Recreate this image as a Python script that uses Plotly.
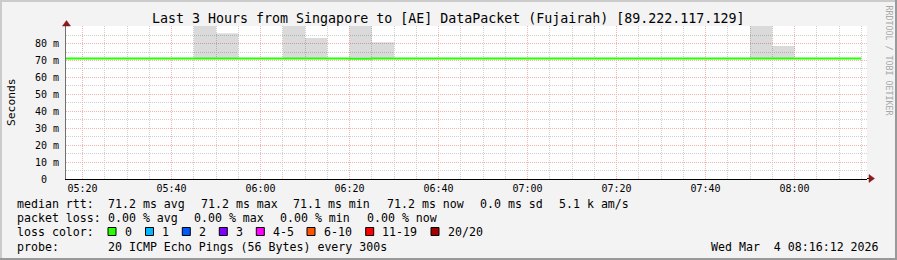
import plotly.graph_objects as go

# ---------------- data ----------------
median_times = [
    "2026-03-04 05:15", "2026-03-04 05:20", "2026-03-04 05:25", "2026-03-04 05:30",
    "2026-03-04 05:35", "2026-03-04 05:40", "2026-03-04 05:45", "2026-03-04 05:50",
    "2026-03-04 05:55", "2026-03-04 06:00", "2026-03-04 06:05", "2026-03-04 06:10",
    "2026-03-04 06:15", "2026-03-04 06:20", "2026-03-04 06:25", "2026-03-04 06:30",
    "2026-03-04 06:35", "2026-03-04 06:40", "2026-03-04 06:45", "2026-03-04 06:50",
    "2026-03-04 06:55", "2026-03-04 07:00", "2026-03-04 07:05", "2026-03-04 07:10",
    "2026-03-04 07:15", "2026-03-04 07:20", "2026-03-04 07:25", "2026-03-04 07:30",
    "2026-03-04 07:35", "2026-03-04 07:40", "2026-03-04 07:45", "2026-03-04 07:50",
    "2026-03-04 07:55", "2026-03-04 08:00", "2026-03-04 08:05", "2026-03-04 08:10",
    "2026-03-04 08:15",
]
median_rtt_ms = [
    71.2, 71.2, 71.2, 71.2, 71.2, 71.2, 71.2, 71.2, 71.2, 71.2,
    71.2, 71.2, 71.2, 71.1, 71.2, 71.2, 71.2, 71.2, 71.2, 71.2,
    71.2, 71.2, 71.2, 71.2, 71.2, 71.2, 71.2, 71.2, 71.2, 71.2,
    71.2, 71.2, 71.2, 71.2, 71.2, 71.2, 71.2,
]

smoke_start = [
    "2026-03-04 05:45", "2026-03-04 05:50", "2026-03-04 06:05", "2026-03-04 06:10",
    "2026-03-04 06:20", "2026-03-04 06:25", "2026-03-04 07:50", "2026-03-04 07:55",
]
smoke_low_ms = [71.0, 71.0, 71.0, 71.0, 71.0, 71.0, 71.0, 71.0]
smoke_high_ms = [112.0, 86.1, 105.0, 83.3, 98.0, 80.8, 101.0, 78.6]

y_tick_vals = [0, 10, 20, 30, 40, 50, 60, 70, 80]
y_tick_text = ["0\u00a0\u00a0", "10 m", "20 m", "30 m", "40 m", "50 m", "60 m", "70 m", "80 m"]

loss_labels = ["0", "1", "2", "3", "4-5", "6-10", "11-19", "20/20"]
loss_colors = ["#26ff00", "#00b8ff", "#0059ff", "#7e00ff", "#ff00ff", "#ff5500", "#ff0000", "#a00000"]

title_text = "Last 3 Hours from Singapore to [AE] DataPacket (Fujairah) [89.222.117.129]"

# ---------------- geometry ----------------
W, H = 897, 260
L, R, T, B = 66, 867, 26, 179
PW, PH = R - L, B - T


def px(x):
    return (x - L) / PW


def py(y):
    return (B - y) / PH


MONO = "DejaVu Sans Mono"
BG = "#f3f3f3"

fig = go.Figure()

fig.add_trace(go.Bar(
    x=smoke_start,
    y=[h - l for h, l in zip(smoke_high_ms, smoke_low_ms)],
    base=smoke_low_ms,
    width=300000,
    offset=0,
    marker=dict(color="rgba(0,0,0,0.145)", line=dict(width=0)),
    hoverinfo="skip",
    showlegend=False,
))

fig.add_trace(go.Scatter(
    x=median_times,
    y=median_rtt_ms,
    mode="lines",
    line=dict(color="#26ff00", width=2, shape="hv"),
    hoverinfo="skip",
    showlegend=False,
))

fig.update_layout(
    width=W, height=H,
    margin=dict(l=L, r=W - R, t=T, b=H - B, pad=0),
    paper_bgcolor=BG,
    plot_bgcolor="#ffffff",
    showlegend=False,
    hovermode=False,
    font=dict(family=MONO, size=10, color="#000000"),
)

MAJOR_GRID = "#f4b2b2"
MINOR_GRID = "#cfcfcf"

fig.update_xaxes(
    type="date",
    range=["2026-03-04 05:16:17", "2026-03-04 08:16:17"],
    tick0="2026-03-04 05:20",
    dtick=1200000,
    tickformat="%H:%M",
    showgrid=True,
    gridcolor=MAJOR_GRID,
    griddash="1px,1px",
    gridwidth=1,
    minor=dict(dtick=300000, tick0="2026-03-04 05:20", showgrid=True,
               gridcolor=MINOR_GRID, griddash="1px,1px", gridwidth=1),
    showline=True, linecolor="#000000", linewidth=1,
    zeroline=False,
    ticks="",
    tickfont=dict(family=MONO, size=10, color="#000000"),
    fixedrange=True,
)

fig.update_yaxes(
    range=[0, PH / 1.6925],
    tickvals=y_tick_vals,
    ticktext=y_tick_text,
    showgrid=True,
    gridcolor=MAJOR_GRID,
    griddash="1px,1px",
    gridwidth=1,
    minor=dict(dtick=5, tick0=0, showgrid=True,
               gridcolor=MINOR_GRID, griddash="1px,1px", gridwidth=1),
    showline=True, linecolor="#707070", linewidth=1,
    zeroline=False,
    ticks="",
    ticklabelstandoff=4,
    tickfont=dict(family=MONO, size=10, color="#000000"),
    fixedrange=True,
)

shapes = []
# frame of the image (rrdtool style shading)
shapes.append(dict(type="rect", xref="paper", yref="paper",
                   x0=px(0), x1=px(2), y0=py(0), y1=py(H), fillcolor="#cbcbcb",
                   line=dict(width=0), layer="above"))
shapes.append(dict(type="rect", xref="paper", yref="paper",
                   x0=px(0), x1=px(W), y0=py(0), y1=py(2), fillcolor="#cbcbcb",
                   line=dict(width=0), layer="above"))
shapes.append(dict(type="rect", xref="paper", yref="paper",
                   x0=px(W - 2), x1=px(W), y0=py(0), y1=py(H), fillcolor="#999999",
                   line=dict(width=0), layer="above"))
shapes.append(dict(type="rect", xref="paper", yref="paper",
                   x0=px(0), x1=px(W), y0=py(H - 2), y1=py(H), fillcolor="#999999",
                   line=dict(width=0), layer="above"))
# x-axis extension and arrow
shapes.append(dict(type="line", xref="paper", yref="paper",
                   x0=px(R), x1=px(870), y0=py(178.5), y1=py(178.5),
                   line=dict(color="#000000", width=1), layer="above"))
ARROW = "#8a1a1a"
shapes.append(dict(type="path", xref="paper", yref="paper",
                   path=f"M {px(869)} {py(174.5)} L {px(874.5)} {py(178.5)} L {px(869)} {py(182.5)} Z",
                   fillcolor=ARROW, line=dict(color=ARROW, width=0.5), layer="above"))
# y-axis arrow
shapes.append(dict(type="path", xref="paper", yref="paper",
                   path=f"M {px(62.5)} {py(26)} L {px(66.5)} {py(20.5)} L {px(70.5)} {py(26)} Z",
                   fillcolor=ARROW, line=dict(color=ARROW, width=0.5), layer="above"))

annotations = []


def text(x, y, s, size=11.6, anchor="left", color="#000000", family=MONO, angle=0):
    annotations.append(dict(
        x=px(x), y=py(y), xref="paper", yref="paper", text=s, showarrow=False,
        xanchor=anchor, yanchor="middle", textangle=angle,
        font=dict(family=family, size=size, color=color),
    ))


# title
text(447.5, 18.5, title_text, size=13.3, anchor="center")
# y title
text(11.5, 102.5, "Seconds", size=11.3, anchor="center", angle=-90)
# watermark
text(888.5, 60, "RRDTOOL / TOBI OETIKER", size=8.3, anchor="center", color="#a8a8a8", angle=90)

# legend rows
row1 = 204
text(15, row1, "median rtt:")
for x, s in [(106, "71.2 ms avg"), (199, "71.2 ms max"), (291, "71.1 ms min"),
             (384.5, "71.2 ms now"), (478, "0.0 ms sd"), (557, "5.1 k am/s")]:
    text(x, row1, s)

row2 = 218.3
text(15, row2, "packet loss:")
for x, s in [(106, "0.00 % avg"), (192, "0.00 % max"), (278, "0.00 % min"), (364.5, "0.00 % now")]:
    text(x, row2, s)

row3 = 231.7
text(15, row3, "loss color:")
box_x = [108, 145.5, 182.3, 219.3, 256.3, 307, 365.7, 431]
for bx, lab, col in zip(box_x, loss_labels, loss_colors):
    shapes.append(dict(type="rect", xref="paper", yref="paper",
                       x0=px(bx), x1=px(bx + 8), y0=py(235.5), y1=py(227.5),
                       fillcolor=col, line=dict(color="#000000", width=1), layer="above"))
    text(bx + 14.5, row3, lab)

row4 = 246.7
text(15, row4, "probe:")
text(106, row4, "20 ICMP Echo Pings (56 Bytes) every 300s")
text(880.5, row4, "Wed Mar\u00a0\u00a04 08:16:12 2026", anchor="right")

fig.update_layout(shapes=shapes, annotations=annotations)

fig.write_html("out.html")
